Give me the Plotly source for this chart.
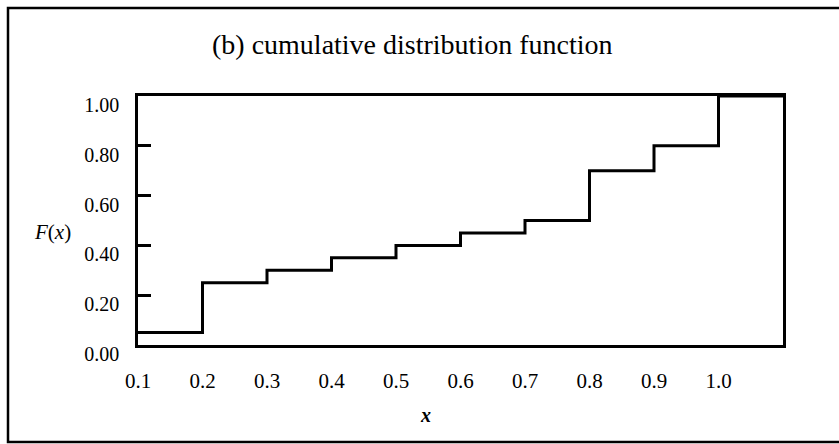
import plotly.graph_objects as go

# Step values of the cumulative distribution F(x)
x_values = [0.1, 0.2, 0.3, 0.4, 0.5, 0.6, 0.7, 0.8, 0.9, 1.0, 1.1]
f_values = [0.05, 0.25, 0.30, 0.35, 0.40, 0.45, 0.50, 0.70, 0.80, 1.00, 1.00]

x_tickvals = [0.1, 0.2, 0.3, 0.4, 0.5, 0.6, 0.7, 0.8, 0.9, 1.0]
x_ticktext = ["0.1", "0.2", "0.3", "0.4", "0.5", "0.6", "0.7", "0.8", "0.9", "1.0"]
y_tickvals = [0.0, 0.2, 0.4, 0.6, 0.8, 1.0]
y_ticktext = ["0.00", "0.20", "0.40", "0.60", "0.80", "1.00"]

W, H = 839, 444
L, R, T, B = 138, 783, 96, 345   # plot box in pixels

SERIF = "Liberation Serif"

fig = go.Figure()
fig.add_trace(go.Scatter(
    x=x_values, y=f_values, mode="lines",
    line=dict(shape="hv", color="black", width=3),
    showlegend=False, hoverinfo="skip",
))

pw, ph = R - L, B - T

def px(x):
    return (x - L) / pw

def py(y):
    return (B - y) / ph

fig.update_layout(
    width=W, height=H,
    margin=dict(l=L, r=W - R, t=T, b=H - B, pad=0),
    paper_bgcolor="white", plot_bgcolor="white",
    font=dict(family=SERIF, color="black", size=20),
    xaxis=dict(
        range=[0.1, 1.1], tickvals=x_tickvals, ticktext=x_ticktext,
        showgrid=False, zeroline=False, showline=True, mirror=True,
        linecolor="black", linewidth=2.5, ticks="",
        ticklabelstandoff=15,
        tickfont=dict(family=SERIF, size=21, color="black"),
    ),
    yaxis=dict(
        range=[0, 1], tickvals=y_tickvals, ticktext=y_ticktext,
        showgrid=False, zeroline=False, showline=True, mirror=True,
        linecolor="black", linewidth=2.5,
        ticks="inside", ticklen=13, tickwidth=3, tickcolor="black",
        ticklabelstandoff=12, ticklabelshift=9,
        tickfont=dict(family=SERIF, size=20, color="black"),
    ),
    shapes=[dict(
        type="rect", xref="paper", yref="paper",
        x0=px(8), x1=px(848), y0=py(442), y1=py(8),
        line=dict(color="black", width=2.5), fillcolor="rgba(0,0,0,0)",
        layer="above",
    )],
    annotations=[
        dict(text="(b) cumulative distribution function", xref="paper", yref="paper",
             x=px(412), y=py(45), xanchor="center", yanchor="middle",
             showarrow=False, font=dict(family=SERIF, size=28, color="black")),
        dict(text="<i>F</i>(<i>x</i>)", xref="paper", yref="paper",
             x=px(52), y=py(232), xanchor="center", yanchor="middle",
             showarrow=False, font=dict(family=SERIF, size=21, color="black")),
        dict(text="<i><b>x</b></i>", xref="paper", yref="paper",
             x=px(425), y=py(415), xanchor="center", yanchor="middle",
             showarrow=False, font=dict(family=SERIF, size=20, color="black")),
    ],
)

fig.write_html("out.html")
